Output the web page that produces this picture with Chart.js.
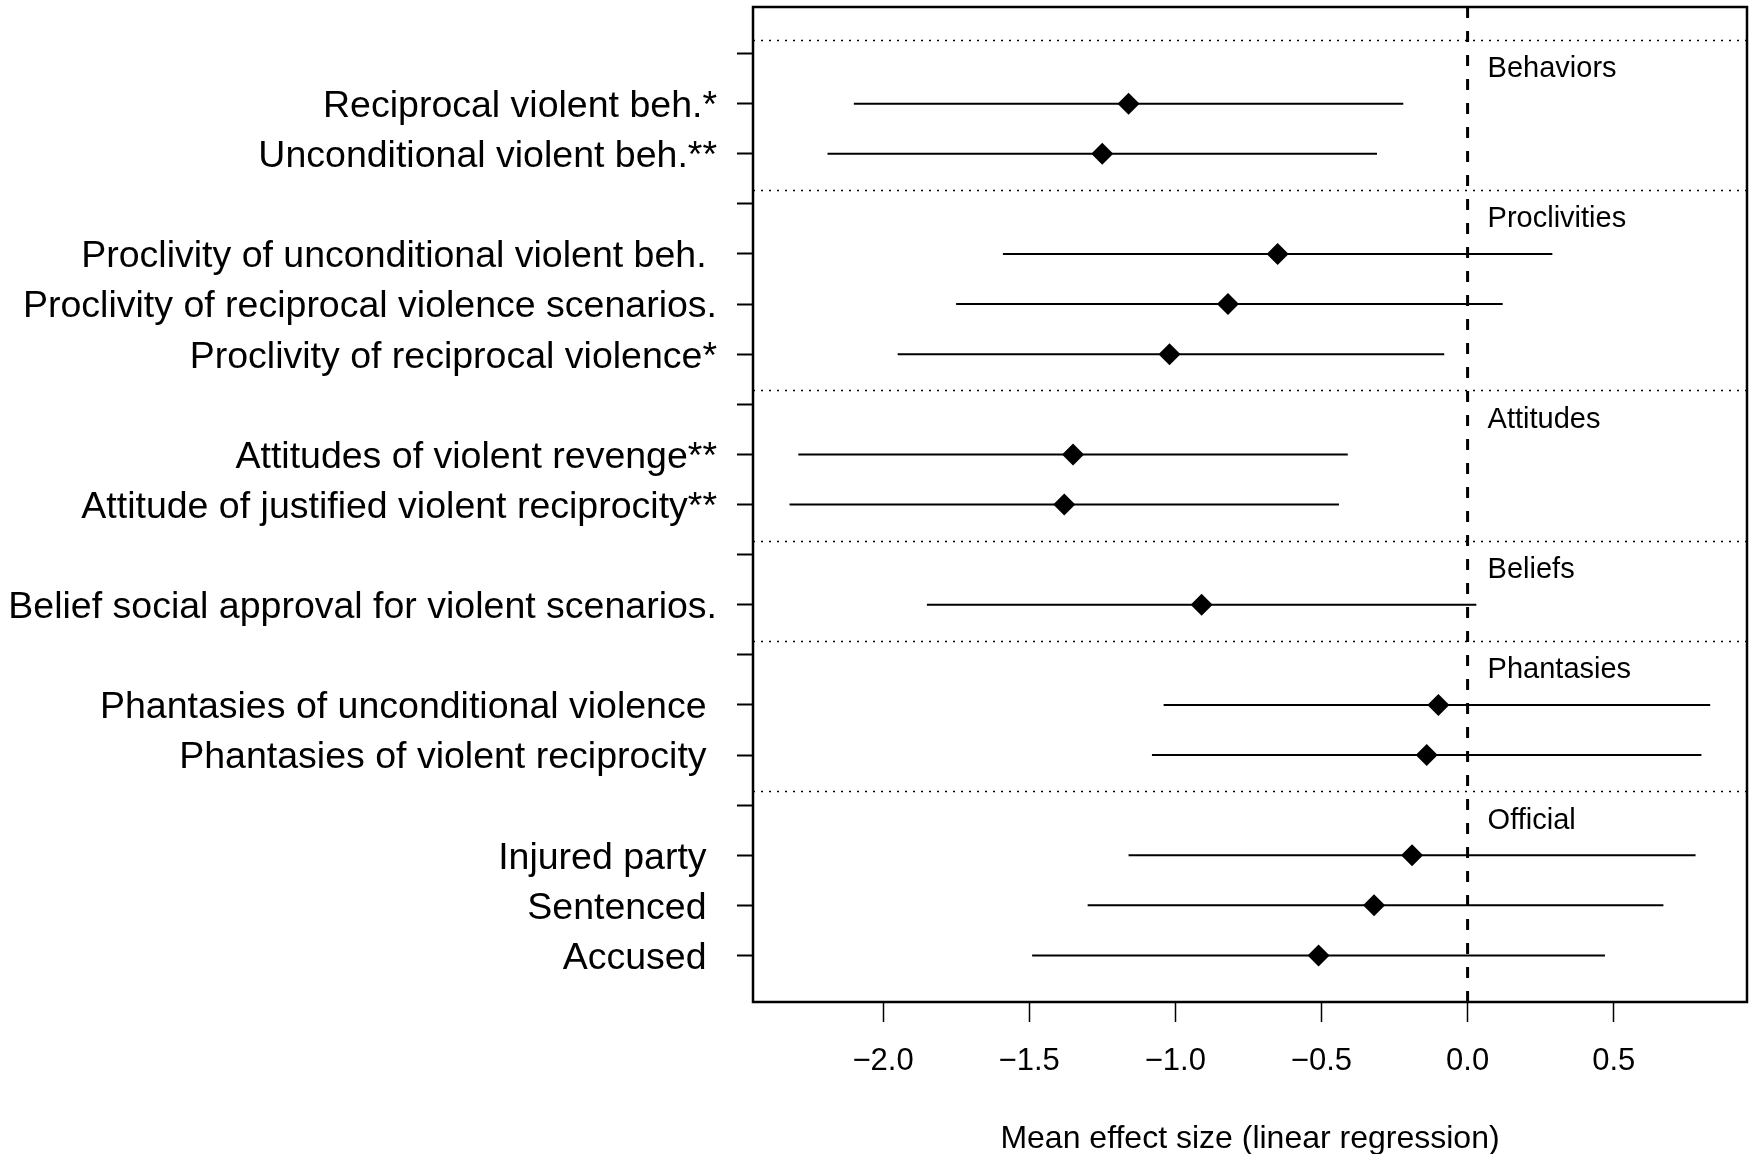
<!DOCTYPE html>
<html>
<head>
<meta charset="utf-8">
<title>Mean effect size</title>
<script src="https://cdn.jsdelivr.net/npm/chart.js@4.4.1/dist/chart.umd.min.js"></script>
<style>
  html, body { margin: 0; padding: 0; background: #fff; }
  #chart { display: block; }
</style>
</head>
<body>
<canvas id="chart" width="1752" height="1154"></canvas>
<script>
// rows, top to bottom (trailing space kept where the original label has one)
const rowLabels = [
    'Reciprocal violent beh.*',
    'Unconditional violent beh.**',
    'Proclivity of unconditional violent beh. ',
    'Proclivity of reciprocal violence scenarios.',
    'Proclivity of reciprocal violence*',
    'Attitudes of violent revenge**',
    'Attitude of justified violent reciprocity**',
    'Belief social approval for violent scenarios.',
    'Phantasies of unconditional violence ',
    'Phantasies of violent reciprocity ',
    'Injured party ',
    'Sentenced ',
    'Accused '
];
const rowPos   = [18, 17, 15, 14, 13, 11, 10, 8, 6, 5, 3, 2, 1];
const estimate = [-1.16, -1.25, -0.65, -0.82, -1.02, -1.35, -1.38, -0.91, -0.10, -0.14, -0.19, -0.32, -0.51];
const lower    = [-2.10, -2.19, -1.59, -1.75, -1.95, -2.29, -2.32, -1.85, -1.04, -1.08, -1.16, -1.30, -1.49];
const upper    = [-0.22, -0.31, 0.29, 0.12, -0.08, -0.41, -0.44, 0.03, 0.83, 0.80, 0.78, 0.67, 0.47];

const groupNames = ['Behaviors', 'Proclivities', 'Attitudes', 'Beliefs', 'Phantasies', 'Official'];
const groupPos   = [19, 16, 12, 9, 7, 4];

const xTicks = [-2.0, -1.5, -1.0, -0.5, 0.0, 0.5];
const yTicks = [1, 2, 3, 4, 5, 6, 7, 8, 9, 10, 11, 12, 13, 14, 15, 16, 17, 18, 19];

const FONT = '"Liberation Sans", Arial, Helvetica, sans-serif';

// label lookup for the y ticks
function labelForRow(v) {
    const i = rowPos.indexOf(v);
    return i >= 0 ? rowLabels[i] : '';
}

// separators, zero line, group names and the box
const decorations = {
    id: 'decorations',
    beforeDatasetsDraw(chart) {
        const { ctx, chartArea: a, scales: { x, y } } = chart;
        ctx.save();
        ctx.strokeStyle = '#000';

        // dotted lines between groups
        ctx.lineWidth = 1.6;
        ctx.setLineDash([2, 6]);
        groupPos.forEach(p => {
            const py = Math.round(y.getPixelForValue(p + 0.28)) + 0.5;
            ctx.beginPath();
            ctx.moveTo(a.left, py);
            ctx.lineTo(a.right, py);
            ctx.stroke();
        });

        // dashed reference line at zero
        const x0 = x.getPixelForValue(0);
        ctx.lineWidth = 3;
        ctx.setLineDash([11, 13]);
        ctx.beginPath();
        ctx.moveTo(x0, a.top);
        ctx.lineTo(x0, a.bottom);
        ctx.stroke();
        ctx.restore();
    },
    afterDatasetsDraw(chart) {
        const { ctx, chartArea: a, scales: { x, y } } = chart;
        ctx.save();

        // group names
        ctx.fillStyle = '#000';
        ctx.font = '29px ' + FONT;
        ctx.textAlign = 'left';
        ctx.textBaseline = 'alphabetic';
        groupNames.forEach((name, i) => {
            const py = y.getPixelForValue(groupPos[i] - 0.27) + 10;
            ctx.fillText(name, x.getPixelForValue(0) + 20, py);
        });

        // box around the plot
        ctx.strokeStyle = '#000';
        ctx.lineWidth = 2.5;
        ctx.strokeRect(a.left, a.top, a.right - a.left, a.bottom - a.top);
        ctx.restore();
    }
};

// one short line per confidence interval
const ciSets = rowPos.map((p, i) => ({
    type: 'scatter',
    data: [{ x: lower[i], y: p }, { x: upper[i], y: p }],
    showLine: true,
    borderColor: '#000',
    borderWidth: 2,
    pointRadius: 0,
    pointHoverRadius: 0
}));

const pointSet = {
    type: 'scatter',
    data: rowPos.map((p, i) => ({ x: estimate[i], y: p })),
    pointStyle: 'rectRot',
    pointRadius: 11,
    pointHoverRadius: 11,
    backgroundColor: '#000',
    borderColor: '#000',
    borderWidth: 0
};

new Chart(document.getElementById('chart'), {
    type: 'scatter',
    data: { datasets: [pointSet].concat(ciSets) },
    options: {
        responsive: false,
        animation: false,
        events: [],
        layout: {
            autoPadding: false,
            padding: { top: 7, right: 5, left: 0, bottom: 0 }
        },
        plugins: {
            legend: { display: false },
            tooltip: { enabled: false }
        },
        scales: {
            x: {
                type: 'linear',
                min: -2.445,
                max: 0.956,
                afterBuildTicks: scale => {
                    scale.ticks = xTicks.map(v => ({ value: v }));
                },
                afterFit: scale => {
                    scale.height = 152;
                    scale.paddingLeft = 0;
                    scale.paddingRight = 0;
                },
                grid: {
                    drawOnChartArea: false,
                    drawTicks: true,
                    tickLength: 20,
                    tickColor: '#000',
                    tickWidth: 1.5
                },
                border: { display: false },
                ticks: {
                    color: '#000',
                    padding: 21,
                    maxRotation: 0,
                    font: { family: FONT, size: 31 },
                    callback: v => v.toFixed(1).replace('-', '\u2212')
                },
                title: {
                    display: true,
                    text: 'Mean effect size (linear regression)',
                    color: '#000',
                    font: { family: FONT, size: 32, lineHeight: 0.9 },
                    padding: { top: 0, bottom: 0 }
                }
            },
            y: {
                type: 'linear',
                min: 0.07,
                max: 19.93,
                afterBuildTicks: scale => {
                    scale.ticks = yTicks.map(v => ({ value: v }));
                },
                afterFit: scale => {
                    scale.width = 753;
                    scale.paddingTop = 0;
                    scale.paddingBottom = 0;
                },
                grid: {
                    drawOnChartArea: false,
                    drawTicks: true,
                    tickLength: 16,
                    tickColor: '#000',
                    tickWidth: 2
                },
                border: { display: false },
                ticks: {
                    color: '#000',
                    padding: 20,
                    labelOffset: 3,
                    autoSkip: false,
                    font: { family: FONT, size: 37.5 },
                    callback: v => labelForRow(v)
                }
            }
        }
    },
    plugins: [decorations]
});
</script>
</body>
</html>
